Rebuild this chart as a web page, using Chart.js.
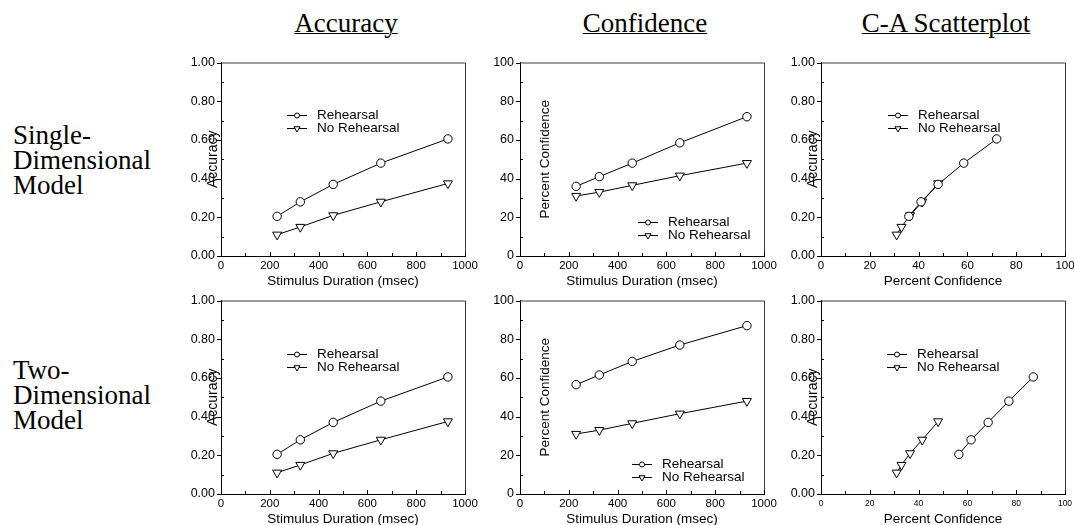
<!DOCTYPE html>
<html>
<head>
<meta charset="utf-8">
<title>Rehearsal models: accuracy and confidence</title>
<script src="https://cdn.jsdelivr.net/npm/chart.js@4.4.1/dist/chart.umd.min.js"></script>
<style>
	body { margin: 0; background: #fff; width: 1074px; height: 525px; overflow: hidden; position: relative; }
	.colTitle { position: absolute; top: 10px; font: 27px/27px "Liberation Serif", "Times New Roman", serif; text-decoration: underline; text-decoration-thickness: 1px; white-space: nowrap; transform: translateX(-50%); color: #000; }
	.rowTitle { position: absolute; left: 13px; font: 27px/25px "Liberation Serif", "Times New Roman", serif; color: #000; }
	canvas { position: absolute; }
</style>
</head>
<body>
<div class="colTitle" style="left:346px">Accuracy</div>
<div class="colTitle" style="left:645px">Confidence</div>
<div class="colTitle" style="left:946px">C-A Scatterplot</div>
<div class="rowTitle" style="top:123px">Single-<br>Dimensional<br>Model</div>
<div class="rowTitle" style="top:358px">Two-<br>Dimensional<br>Model</div>

<script>
// stimulus durations (msec), same for every condition
const durations = [230, 325, 460, 655, 930];

// accuracy, both models give the same values
const accRehearsal = [0.205, 0.28, 0.37, 0.48, 0.605];
const accNoRehearsal = [0.11, 0.15, 0.21, 0.28, 0.375];

// percent confidence
const confRehearsalSingle = [36, 41, 48, 58.5, 72];
const confRehearsalTwo = [56.5, 61.5, 68.5, 77, 87];
const confNoRehearsal = [31, 33, 36.5, 41.5, 48];

const seriesNames = ['Rehearsal', 'No Rehearsal'];

// tick labels
const durationTicks = [0, 200, 400, 600, 800, 1000];
const accuracyTicks = [0, 0.2, 0.4, 0.6, 0.8, 1.0];
const confidenceTicks = [0, 20, 40, 60, 80, 100];

// layout of the six panels (px)
const plotLeft = [221, 520, 821];
const plotTop = [61, 299];
const plotW = 244, plotH = 195;
const padL = 50, padT = 12, padR = 22, padB = 33;

const sans = '"Liberation Sans", Arial, sans-serif';

function pairs(xs, ys) {
	return xs.map((x, i) => ({ x, y: ys[i] }));
}

// axis setups
const axes = {
	duration: { ticks: durationTicks, minor: 100, title: 'Stimulus Duration (msec)', fmt: v => String(v) },
	confidence: { ticks: confidenceTicks, minor: 10, title: 'Percent Confidence', fmt: v => String(v) },
	accuracy: { ticks: accuracyTicks, minor: 0.1, title: 'Accuracy', fmt: v => v.toFixed(2) }
};

// box edges + small tick marks (majors and minors)
const frameTicks = {
	id: 'frameTicks',
	beforeDatasetsDraw(chart, args, opts) {
		const { ctx, chartArea: a, scales: { x, y } } = chart;
		ctx.save();
		ctx.lineWidth = 1;
		ctx.strokeStyle = '#3a3a3a';
		ctx.beginPath();
		ctx.moveTo(a.left, a.top + 0.5);
		ctx.lineTo(a.right + 0.5, a.top + 0.5);
		ctx.lineTo(a.right + 0.5, a.bottom);
		ctx.stroke();

		ctx.strokeStyle = '#000';
		ctx.beginPath();
		let n = Math.round((x.max - x.min) / opts.xStep);
		for (let i = 0; i <= n; i++) {
			let px = Math.round(x.getPixelForValue(x.min + i * opts.xStep)) + 0.5;
			ctx.moveTo(px, a.bottom);
			ctx.lineTo(px, a.bottom - (i % 2 ? 3 : 4));
		}
		n = Math.round((y.max - y.min) / opts.yStep);
		for (let i = 0; i <= n; i++) {
			let py = Math.round(y.getPixelForValue(y.min + i * opts.yStep)) + 0.5;
			if (i % 2) {
				ctx.moveTo(a.left, py);
				ctx.lineTo(a.left + 3, py);
			} else {
				ctx.moveTo(a.left - 4, py);
				ctx.lineTo(a.left, py);
			}
		}
		ctx.stroke();
		ctx.restore();
	}
};

function drawMarker(ctx, style, cx, cy, r) {
	ctx.beginPath();
	if (style === 'triangle') {
		// pointing down
		for (let k = 0; k < 3; k++) {
			let ang = Math.PI + k * 2 * Math.PI / 3;
			let px = cx + Math.sin(ang) * r, py = cy - Math.cos(ang) * r;
			k ? ctx.lineTo(px, py) : ctx.moveTo(px, py);
		}
		ctx.closePath();
	} else {
		ctx.arc(cx, cy, r, 0, Math.PI * 2);
	}
	ctx.fillStyle = '#fff';
	ctx.fill();
	ctx.stroke();
}

// legend inside the plot area
const insetLegend = {
	id: 'insetLegend',
	afterDatasetsDraw(chart, args, opts) {
		const { ctx, chartArea: a } = chart;
		ctx.save();
		ctx.lineWidth = 1;
		ctx.strokeStyle = '#000';
		ctx.font = '13.5px ' + sans;
		ctx.textBaseline = 'middle';
		chart.data.datasets.forEach((ds, i) => {
			let y = Math.round(a.top + opts.y + i * 13.3) + 0.5;
			let x0 = a.left + opts.x;
			ctx.beginPath();
			ctx.moveTo(x0, y);
			ctx.lineTo(x0 + 20, y);
			ctx.stroke();
			drawMarker(ctx, ds.pointStyle, x0 + 10, y, ds.pointStyle === 'triangle' ? 3.5 : 2.5);
			ctx.fillStyle = '#000';
			ctx.fillText(ds.label, x0 + 30, y);
		});
		ctx.restore();
	}
};

function makeDatasets(sets) {
	return sets.map((data, i) => ({
		label: seriesNames[i],
		data,
		borderColor: '#000',
		borderWidth: 1,
		tension: 0,
		pointStyle: i ? 'triangle' : 'circle',
		pointRotation: i ? 180 : 0,
		pointRadius: i ? 5.2 : 4.2,
		pointBackgroundColor: '#fff',
		pointBorderColor: '#000',
		pointBorderWidth: 1
	}));
}

function axisOptions(key, horizontal, panel) {
	const ax = axes[key];
	let tickFont = horizontal ? (panel.smallX ? 8.5 : 11.5) : 12.5;
	let title;
	if (horizontal) {
		title = { display: true, text: ax.title, color: '#000', font: { family: sans, size: 13.5 }, padding: { top: 0, bottom: 0 } };
	} else {
		// accuracy title sits over the tick labels, confidence title inside the box
		let size = key === 'accuracy' ? 14 : 13.5;
		let centre = key === 'accuracy' ? 42 : 75;
		title = { display: true, text: ax.title, color: '#000', font: { family: sans, size }, padding: { top: centre - size * 0.6, bottom: 0 } };
	}
	return {
		type: 'linear',
		position: horizontal ? 'bottom' : 'left',
		min: ax.ticks[0],
		max: ax.ticks[ax.ticks.length - 1],
		afterBuildTicks: s => { s.ticks = ax.ticks.map(v => ({ value: v })); },
		afterFit: s => { if (horizontal) s.height = padB; else s.width = padL; },
		grid: { display: false, drawTicks: false },
		border: { display: true, color: '#000', width: 1 },
		ticks: {
			color: '#000',
			font: { family: sans, size: tickFont },
			padding: horizontal ? (panel.smallX ? 4.5 : 2.5) : 6,
			maxRotation: 0,
			autoSkip: false,
			callback: v => ax.fmt(v)
		},
		title
	};
}

const panels = [
	{ col: 0, row: 0, x: 'duration', y: 'accuracy', sets: [pairs(durations, accRehearsal), pairs(durations, accNoRehearsal)], legend: { x: 66, y: 52 } },
	{ col: 1, row: 0, x: 'duration', y: 'confidence', sets: [pairs(durations, confRehearsalSingle), pairs(durations, confNoRehearsal)], legend: { x: 118, y: 159 } },
	{ col: 2, row: 0, x: 'confidence', y: 'accuracy', sets: [pairs(confRehearsalSingle, accRehearsal), pairs(confNoRehearsal, accNoRehearsal)], legend: { x: 67, y: 52 } },
	{ col: 0, row: 1, x: 'duration', y: 'accuracy', sets: [pairs(durations, accRehearsal), pairs(durations, accNoRehearsal)], legend: { x: 66, y: 53 } },
	{ col: 1, row: 1, x: 'duration', y: 'confidence', sets: [pairs(durations, confRehearsalTwo), pairs(durations, confNoRehearsal)], legend: { x: 112, y: 163 } },
	{ col: 2, row: 1, x: 'confidence', y: 'accuracy', sets: [pairs(confRehearsalTwo, accRehearsal), pairs(confNoRehearsal, accNoRehearsal)], legend: { x: 66, y: 53 }, smallX: true }
];

panels.forEach(p => {
	let cv = document.createElement('canvas');
	cv.width = padL + plotW + padR;
	cv.height = padT + plotH + padB;
	cv.style.left = (plotLeft[p.col] - padL) + 'px';
	cv.style.top = (plotTop[p.row] - padT) + 'px';
	document.body.appendChild(cv);

	new Chart(cv.getContext('2d'), {
		type: 'line',
		data: { datasets: makeDatasets(p.sets) },
		options: {
			responsive: false,
			animation: false,
			layout: { padding: { left: 0, top: padT, right: padR, bottom: 0 } },
			scales: {
				x: axisOptions(p.x, true, p),
				y: axisOptions(p.y, false, p)
			},
			plugins: {
				legend: { display: false },
				tooltip: { enabled: false },
				frameTicks: { xStep: axes[p.x].minor, yStep: axes[p.y].minor },
				insetLegend: p.legend
			}
		},
		plugins: [frameTicks, insetLegend]
	});
});
</script>
</body>
</html>
